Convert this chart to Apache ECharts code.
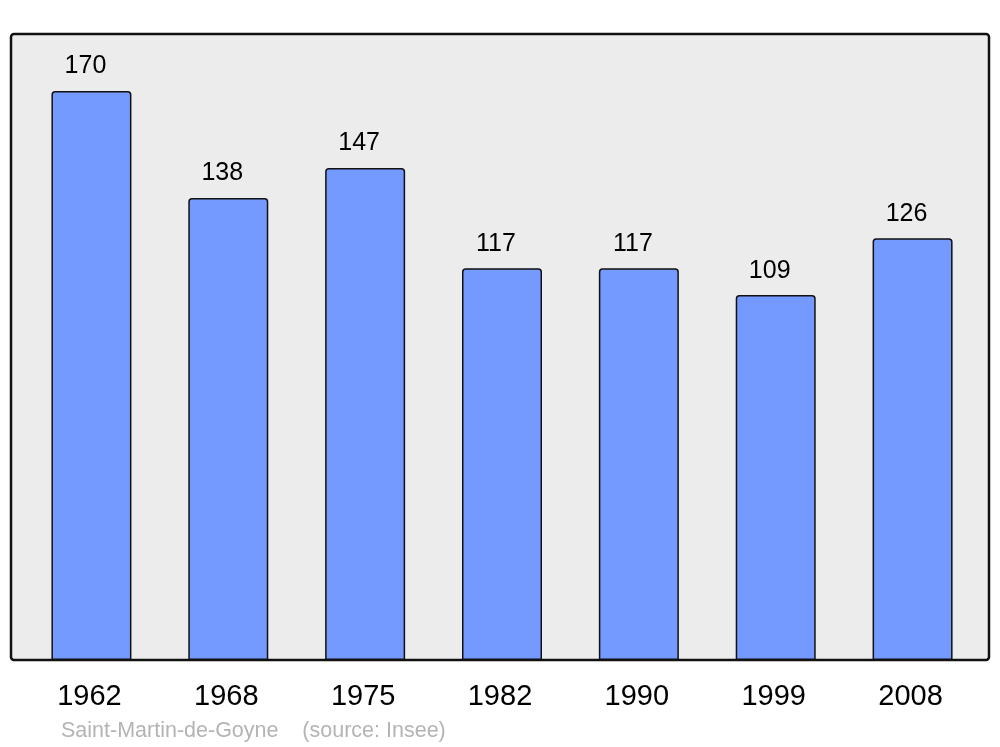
<!DOCTYPE html>
<html><head><meta charset="utf-8">
<script src="https://cdn.jsdelivr.net/npm/echarts@6/dist/echarts.min.js"></script>
<style>html,body{margin:0;padding:0;background:#fff}#c{width:1000px;height:747px}</style>
</head><body><div id="c"></div>
<script>
const years = ['1962','1968','1975','1982','1990','1999','2008'];
const population = [170,138,147,117,117,109,126];
const sourceText = 'Saint-Martin-de-Goyne    (source: Insee)';

const chart = echarts.init(document.getElementById('c'), null, {renderer:'canvas'});
chart.setOption({
  animation:false,
  backgroundColor:'#ffffff',
  textStyle:{fontFamily:'Liberation Sans, Arial, sans-serif'},
  grid:{left:23, right:19, top:34, bottom:87},
  graphic:[
    {type:'rect', z:-10, shape:{x:11, y:34, width:978, height:626, r:3},
     style:{fill:'#ececec', stroke:'#111', lineWidth:2.5}},
    {type:'text', left:61, top:720, z:10,
     style:{text:sourceText, fill:'#b4b4b4', fontSize:21.5, fontFamily:'Liberation Sans, Arial, sans-serif'}}
  ],
  xAxis:{type:'category', data:years,
    axisLine:{show:false}, axisTick:{show:false},
    axisLabel:{color:'#000', fontSize:29, margin:22, padding:[0,4,0,0], fontFamily:'Liberation Sans, Arial, sans-serif'}},
  yAxis:{type:'value', min:0, max:187, show:false, splitLine:{show:false}},
  series:[{type:'bar', data:population, barWidth:80,
    itemStyle:{color:'#7499ff', borderColor:'#111', borderWidth:1.5, borderRadius:[3,3,0,0]},
    label:{show:true, position:'top', distance:12, offset:[-6,0], color:'#000', fontSize:25,
      fontFamily:'Liberation Sans, Arial, sans-serif'}
  }]
});
</script></body></html>
